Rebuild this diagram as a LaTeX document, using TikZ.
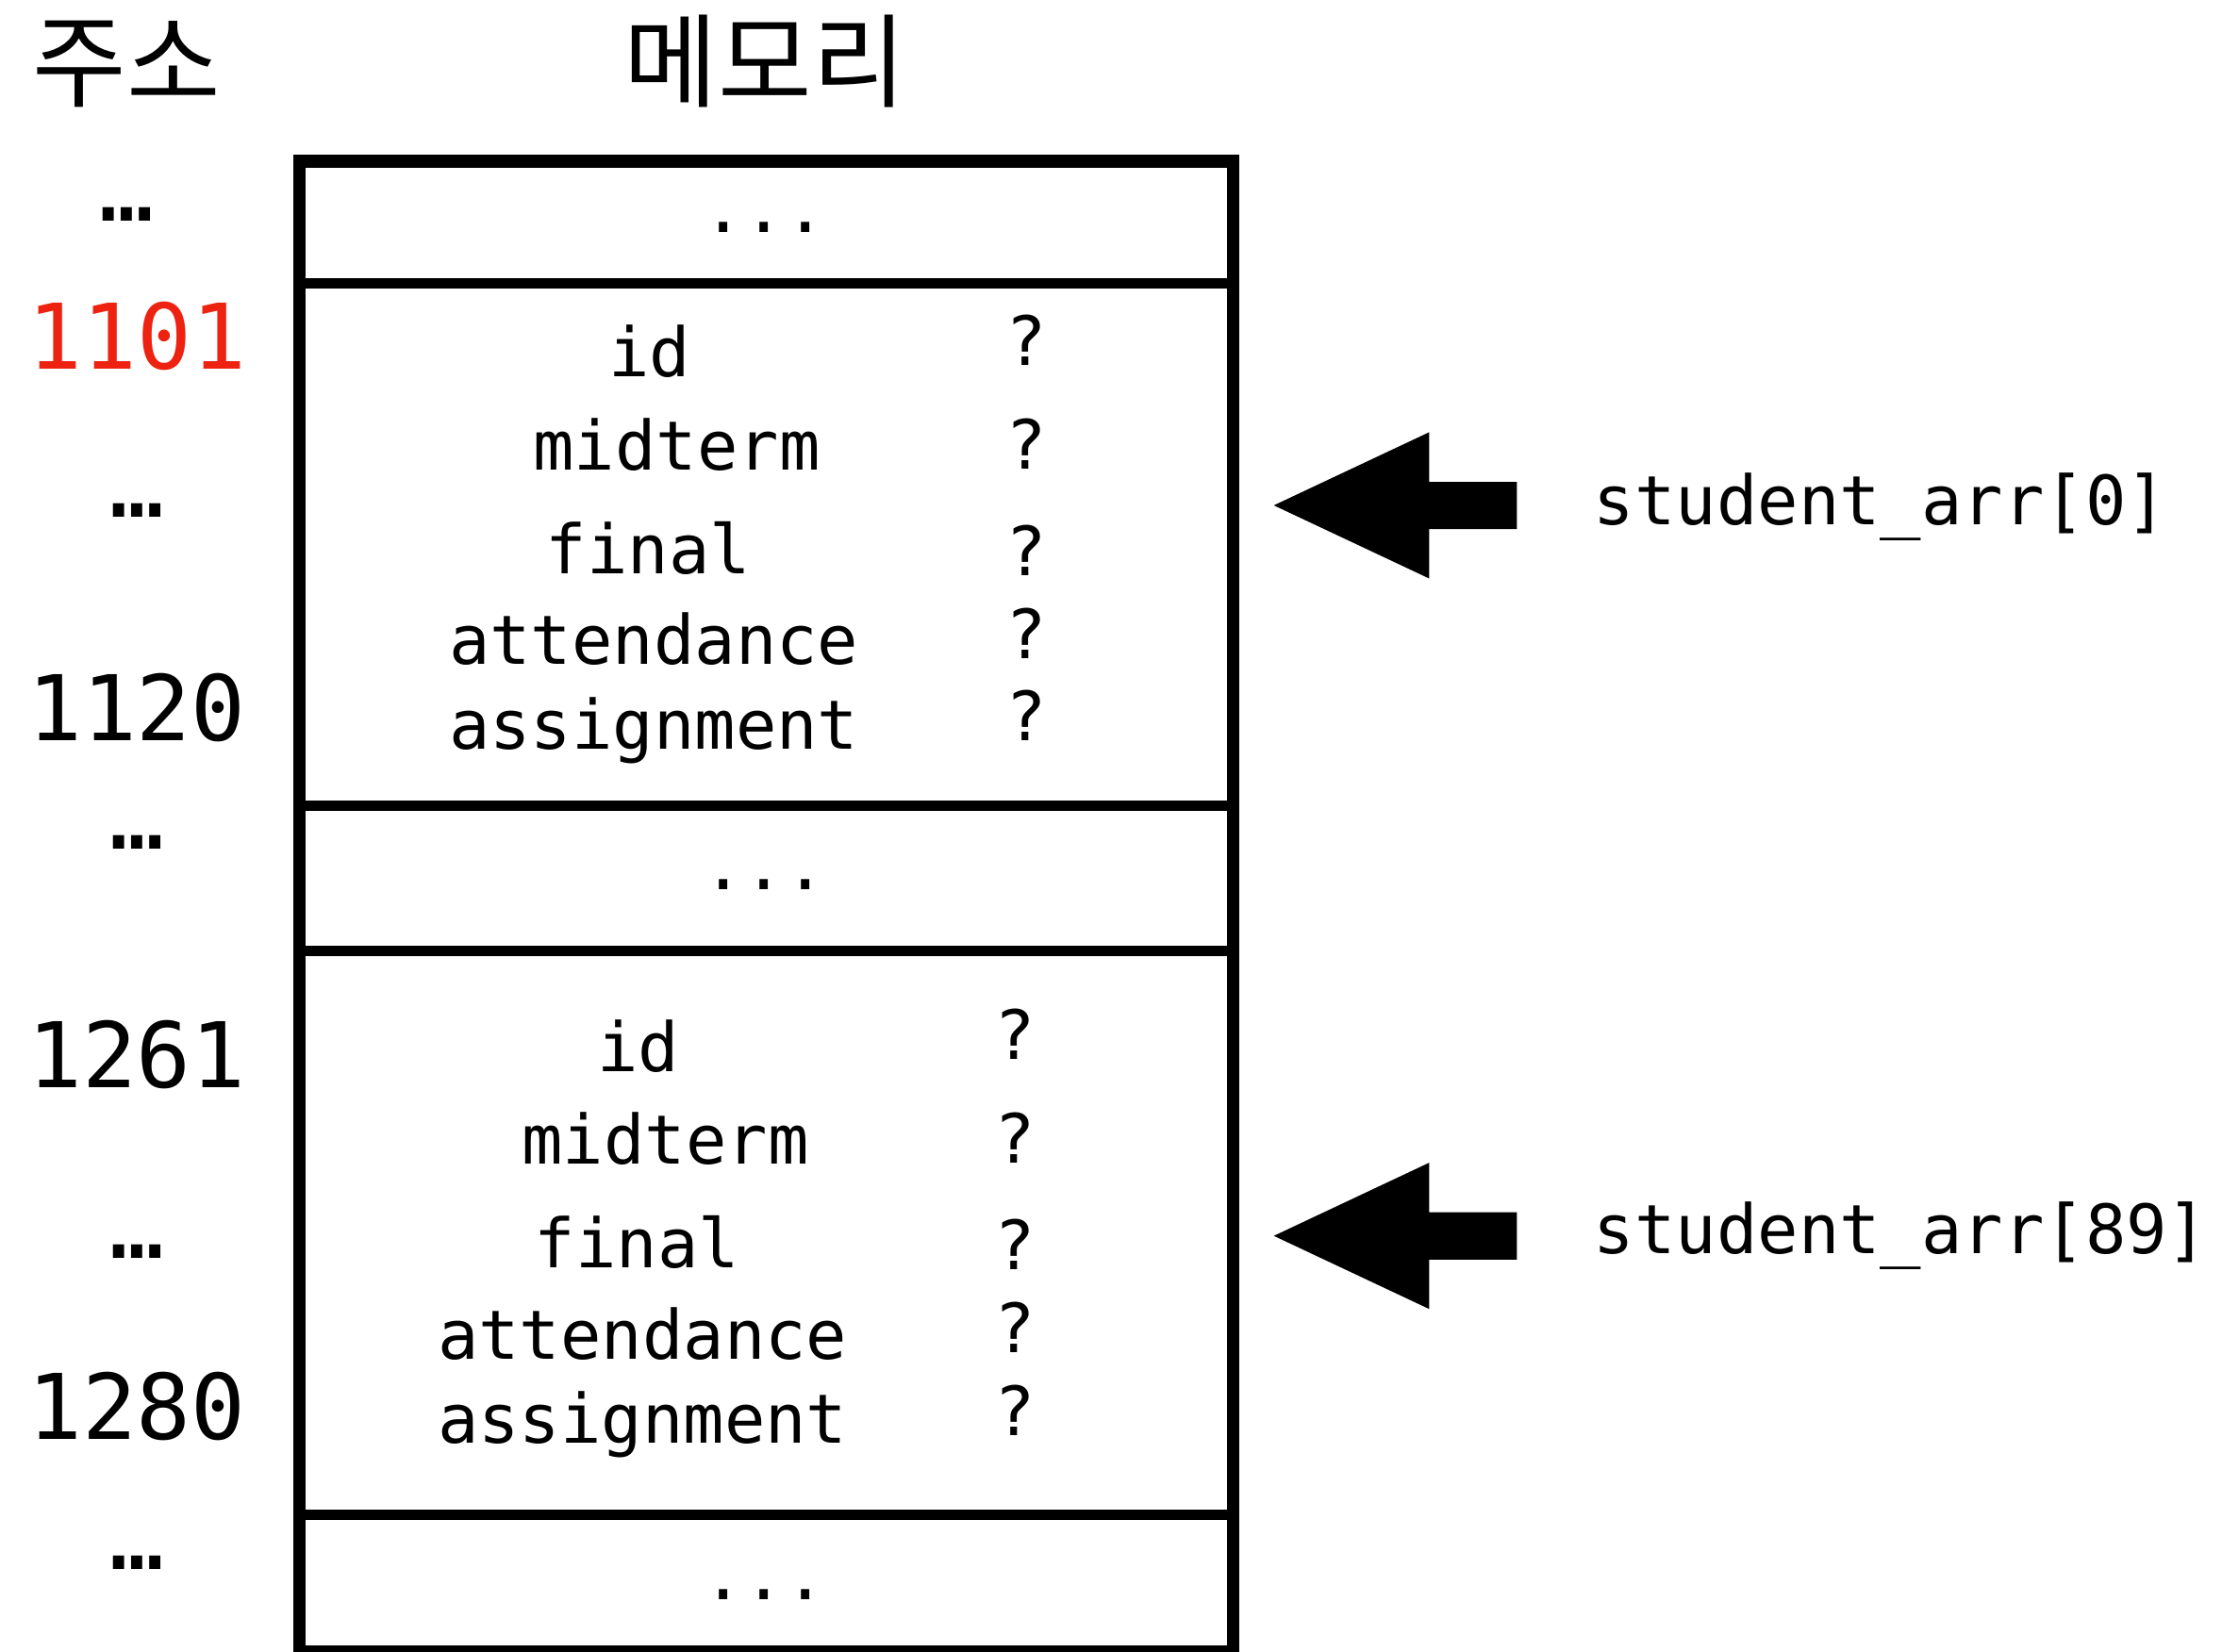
\documentclass[tikz,border=0pt]{standalone}
\usepackage{fontspec}
\usepackage{xcolor}
\usepackage{tikz}
\newfontfamily\codefont{DejaVu Sans Mono}
\newfontfamily\hangulfont{Noto Sans CJK KR}
\definecolor{addrRed}{HTML}{EE2211}

\begin{document}
\begin{tikzpicture}[
  x=0.1mm, y=-0.1mm,
  cell/.style={draw,line width=0.73mm,minimum width=65.84mm,inner sep=0pt,
               outer sep=0pt,anchor=north west},
  outline/.style={line width=0.87mm},
  field/.style={font=\codefont\fontsize{13.66}{16}\selectfont,anchor=base,inner sep=0pt},
  addr/.style={font=\codefont\fontsize{18.2}{22}\selectfont,anchor=base,inner sep=0pt},
  heading/.style={font=\hangulfont\fontsize{20.5}{24}\selectfont,anchor=base,inner sep=0pt},
  pointer/.style={fill=black}
]
\useasboundingbox (0,0) rectangle (1568,1166);

% Headings
\node[heading] (hAddr) at (89.5,70) {주소};
\node[heading] (hMem)  at (540,70)  {메모리};

% Memory cells
\foreach \n/\t/\b in {m0/113.8/200,m1/200/568.9,m2/568.9/671.4,m3/671.4/1069,m4/1069/1166}{
  \pgfmathsetmacro\h{(\b-\t)/10}
  \node[cell,minimum height=\h mm] (\n) at (211.6,\t) {};
}
\draw[outline] (m0.north west) rectangle (m4.south east);

% Skipped memory
\foreach \n/\y in {m0/164,m2/628,m4/1129}
  \node[field] (dots\n) at (539.5,\y) {...};

% Struct members, student_arr[0] and student_arr[89]
\foreach \f/\x/\y/\q [count=\i] in {id/458.5/266.2/257.6,midterm/477.5/331.6/331,
    final/457.6/404.8/406,attendance/461.4/469.2/464.7,assignment/461.4/528.5/523}{
  \node[field] (fa\i) at (\x,\y) {\f};
  \node[field] (qa\i) at (724,\q) {?};
  \node[field] (fb\i) at (\x-8,\y+490) {\f};
  \node[field] (qb\i) at (716,\q+490) {?};
}

% Addresses
\node[addr,text=addrRed] (a1101) at (96.9,260.7) {1101};
\node[addr] (a1120) at (96.5,523)  {1120};
\node[addr] (a1261) at (96.5,768)  {1261};
\node[addr] (a1280) at (96.5,1016) {1280};
\foreach \x/\y [count=\i] in {89.5/156,96.5/365,96.5/599,96.5/888,96.5/1108}
  \node[addr] (gap\i) at (\x,\y) {…};

% Pointers
\foreach \k/\y/\b in {0/356.7/370.5,89/872.3/885}{
  \node[field,anchor=base west] (arr\k) at (1124,\b) {student\_arr[\k]};
  \coordinate (tip\k) at (898.9,\y);
  \fill[pointer] (tip\k) -- ++(109.6,-51.6) -- ++(0,35) -- ++(62,0) -- ++(0,33.4)
    -- ++(-62,0) -- ++(0,34.8) -- cycle;
}
\end{tikzpicture}
\end{document}
